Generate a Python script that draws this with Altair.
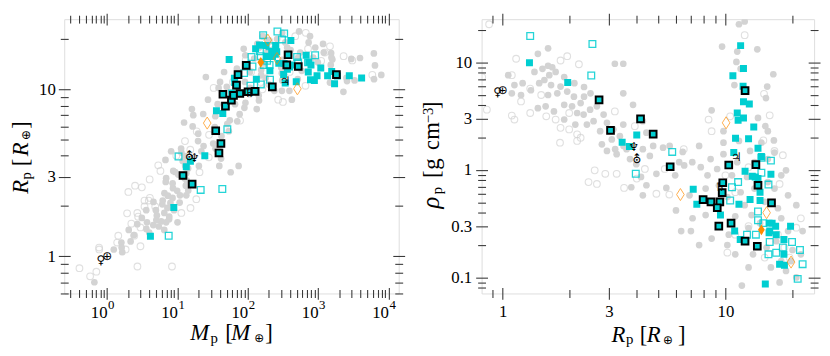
import altair as alt
import pandas as pd

# ---------------- data: planet radius R [R_earth] and bulk density rho [g cm^-3] ----------------
gray_filled_R = [1.60, 1.44, 1.39, 1.51, 1.60, 1.67, 1.73, 1.62, 1.54, 1.46,
                 1.34, 1.21, 1.13, 1.23, 1.65, 1.82, 1.76, 1.60, 1.95, 2.09,
                 2.24, 2.05, 1.89, 2.16, 2.31, 2.47, 2.65, 2.84, 2.56, 2.39,
                 2.94, 2.74, 3.14, 3.48, 3.36, 3.09, 2.79, 2.94, 3.25, 3.60,
                 3.85, 3.48, 3.19, 3.48, 4.26, 4.42, 4.26, 3.98, 4.18, 3.78,
                 4.26, 1.70, 1.56, 1.44, 1.89, 2.12, 5.25, 4.74, 6.43, 7.62,
                 6.53, 5.95, 7.75, 8.58, 8.31, 5.43, 6.00, 6.33, 7.12, 7.62,
                 8.67, 4.90, 4.42, 10.2, 11.07, 9.18,
                 9.66, 11.3, 13.9, 11.2, 11.7, 10.97, 16.4, 15.4, 15.2, 8.67,
                 9.8, 14.0, 15.1, 15.5, 16.5, 9.8, 11.5, 12.9, 9.8, 11.3,
                 12.5, 11.7, 14.3, 15.3, 18.7, 16.9, 20.0, 18.7, 19.1, 20.8,
                 22.2, 20.8, 17.5, 11.85, 12.7, 11.07, 10.2, 10.35, 12.2, 13.1,
                 12.7, 15.0, 16.6, 17.2, 17.8, 19.1, 17.8, 19.7, 21.8, 9.35,
                 10.7, 14.5, 16.6, 17.8, 15.5, 13.5, 12.2, 11.5, 7.0, 8.15,
                 9.18, 13.5, 15.5, 13.3, 16.0,
                 1.89, 2.10, 2.32, 2.48, 2.32, 3.20, 3.49, 3.73, 4.58, 5.62,
                 6.20, 7.10, 8.15, 6.90, 1.06, 1.10, 0.70]
gray_filled_rho = [13.5, 12.0, 8.15, 8.7, 9.3, 9.0, 8.15, 7.6, 6.85, 6.4,
                   5.5, 4.97, 6.15, 6.4, 6.15, 5.95, 5.15, 4.97, 5.35, 4.8,
                   4.18, 3.9, 4.03, 3.38, 3.27, 3.63, 3.9, 3.27, 2.84, 2.64,
                   2.74, 2.29, 2.38, 2.64, 2.06, 1.92, 1.73, 1.50, 1.40, 1.56,
                   4.03, 5.15, 9.7, 9.7, 2.84, 2.22, 1.56, 1.13, 0.86, 0.69,
                   0.58, 3.5, 3.9, 3.75, 2.94, 2.64, 1.61, 1.67, 1.47, 1.67,
                   1.10, 0.89, 1.06, 1.26, 0.89, 0.68, 0.42, 0.27, 0.355, 0.20,
                   0.23, 0.92, 0.72, 0.56, 0.37, 1.02,
                   14.0, 12.6, 13.2, 10.1, 8.7, 6.15, 7.75, 5.95, 4.65, 3.58,
                   2.29, 3.04, 2.55, 2.29, 1.88, 1.79, 1.86, 1.50, 1.40, 1.18,
                   0.86, 0.62, 0.32, 0.19, 0.115, 0.217, 0.18, 0.99, 0.58, 0.47,
                   0.27, 0.10, 0.090, 0.084, 0.124, 0.164, 0.20, 0.25, 0.47, 0.38,
                   0.288, 0.505, 0.67, 0.44, 0.355, 0.27, 0.142, 0.142, 0.164, 0.72,
                   0.89, 1.79, 1.45, 0.89, 1.26, 1.18, 24.0, 22.6, 0.27, 0.38,
                   0.44, 0.67, 0.77, 0.164, 0.124,
                   7.3, 6.4, 4.8, 5.15, 5.9, 1.56, 1.67, 1.26, 1.35, 1.67,
                   1.18, 1.18, 0.67, 0.58, 7.6, 5.15, 10.6]

gray_open_R = [1.15, 1.95, 2.20, 1.82, 1.21, 1.13, 1.82, 1.99, 2.16, 1.73,
               2.16, 1.81, 2.24, 2.59, 2.89, 3.25, 2.65, 2.43, 3.51, 3.92,
               3.19, 0.85, 0.87, 0.81, 4.35, 4.90, 5.60, 12.2, 14.9, 15.8,
               8.4, 8.67, 14.8, 16.6, 18.1, 10.0, 12.7, 10.2, 15.0, 20.8,
               19.4, 11.07, 17.5, 12.7, 10.5, 1.33, 1.57, 1.99, 6.5, 5.34,
               4.0, 1.49, 1.33, 1.10, 17.2, 18.4, 11.07, 21.8,
               0.76, 0.87, 1.10]
gray_open_rho = [10.8, 11.4, 9.6, 10.4, 4.33, 2.94, 2.46, 2.38, 2.14, 2.94,
                 1.86, 1.79, 1.99, 0.99, 0.92, 0.92, 0.74, 0.77, 0.68, 2.55,
                 3.5, 3.63, 22.6, 7.3, 1.02, 0.60, 0.59, 17.9, 5.1, 3.22,
                 2.94, 2.29, 1.88, 1.50, 1.37, 0.89, 0.30, 0.17, 0.153, 0.29,
                 0.153, 0.25, 0.74, 1.06, 3.15, 3.38, 3.15, 3.38, 1.56, 1.02,
                 0.83, 4.97, 5.7, 7.6, 0.25, 0.19, 0.62, 0.355,
                 7.2, 70.0, 3.2]

cyan_filled_R = [1.32, 1.96, 3.44, 3.71, 4.00, 7.17, 7.44,
                 11.7, 12.05, 10.8, 12.0, 12.05, 12.8, 11.3, 11.4, 12.05,
                 13.4, 11.1, 12.7, 14.0, 10.9, 14.5, 12.25, 13.2, 14.0, 16.0,
                 12.9, 11.5, 14.3, 9.5, 11.0, 11.65, 15.7, 16.8, 16.9, 19.6,
                 18.3, 17.5, 18.4, 18.3, 15.1, 15.8, 13.6, 14.3, 15.7, 16.2]
cyan_filled_rho = [9.9, 6.5, 1.81, 1.65, 2.11, 0.66, 0.48,
                   14.3, 8.75, 7.5, 6.0, 4.3, 4.1, 3.38, 2.9, 3.04,
                   2.5, 1.97, 1.95, 1.59, 1.45, 1.33, 0.97, 0.875, 0.83, 0.91,
                   0.53, 0.48, 0.52, 0.38, 0.27, 0.225, 0.32, 0.30, 0.25, 0.30,
                   0.225, 0.133, 0.13, 0.164, 0.087, 0.27, 0.86, 0.62, 0.26, 0.32]

cyan_open_R = [1.33, 2.53, 2.50, 5.77, 3.96, 16.0, 10.7, 11.4, 10.5, 15.6,
               14.5, 14.0, 14.0, 12.5, 13.7, 15.8, 15.6, 16.9, 19.9, 21.6,
               22.2, 21.1, 18.1, 14.8, 14.5]
cyan_open_rho = [17.6, 14.8, 7.55, 1.47, 0.92, 1.22, 0.69, 0.77, 0.52, 0.73,
                 0.94, 0.41, 0.34, 0.25, 0.25, 0.214, 0.164, 0.17, 0.214, 0.18,
                 0.133, 0.097, 0.19, 0.32, 1.30]

outlined_R = [2.71, 3.05, 4.16, 4.74, 5.65, 7.94, 8.61, 9.44, 9.19, 9.67,
              9.73, 9.34, 10.6, 10.35, 12.25, 12.25, 13.9, 13.7, 14.0, 16.1]
outlined_rho = [4.48, 2.33, 2.98, 2.15, 1.07, 0.53, 0.505, 0.505, 0.445, 0.615,
                0.76, 0.30, 0.32, 1.11, 5.46, 0.218, 0.195, 1.12, 0.72, 0.494]

orange_open_R = [10.07, 6.28, 15.3, 19.7]
orange_open_rho = [2.74, 0.59, 0.40, 0.139]
orange_filled_R = [14.5]
orange_filled_rho = [0.277]

solar_symbol = ["\u2640", "\u2295", "\u26e2", "\u2646", "\u2643", "\u2644"]
solar_R = [0.95, 1.00, 4.00, 3.88, 11.2, 9.45]
solar_rho = [5.24, 5.51, 1.27, 1.64, 1.33, 0.69]

# ---------------- tick values and tick labels ----------------
mass_major = [1, 10, 100, 1000, 10000]
mass_exponent_labels = ["0", "1", "2", "3", "4"]
mass_minor = [0.3, 0.4, 0.5, 0.6, 0.7, 0.8, 0.9, 2, 3, 4, 5, 6, 7, 8, 9,
              20, 30, 40, 50, 60, 70, 80, 90, 200, 300, 400, 500, 600, 700, 800, 900,
              2000, 3000, 4000, 5000, 6000, 7000, 8000, 9000]
radL_major = [1, 3, 10]
radL_minor = [0.6, 0.7, 0.8, 0.9, 2, 4, 5, 6, 7, 8, 9, 20]
radR_major = [1, 3, 10]
radR_minor = [0.9, 2, 4, 5, 6, 7, 8, 9, 20]
rho_major = [0.1, 0.3, 1, 3, 10]
rho_minor = [0.08, 0.09, 0.2, 0.4, 0.5, 0.6, 0.7, 0.8, 0.9, 2, 4, 5, 6, 7, 8, 9, 20]

M_DOM = [0.246, 14000]
RL_DOM = [0.60, 26.3]
RR_DOM = [0.805, 25.0]
RHO_DOM = [0.071, 25.2]

SERIF = "Liberation Serif, DejaVu Serif, serif"
SYMF = "DejaVu Sans, sans-serif"
AXC = "#3a3a3a"
CYAN = "#00CED1"
ORANGE = "#FF8C00"
GRAY = "#D3D3D3"
DIAMOND = "M0,-1L0.63,0L0,1L-0.63,0Z"

one = pd.DataFrame({"k": [0]})


def df(R, rho, sym=None):
    d = pd.DataFrame({"R": R, "rho": rho})
    if sym is not None:
        d["sym"] = sym
    return d


def axis(orient, values, major, labels=False, pad=0):
    kw = dict(orient=orient, values=values, offset=-6 if major else -4,
              tickSize=12 if major else 8, domain=False, grid=False, title=None,
              tickColor=AXC, tickWidth=1.1, labels=labels, zindex=1)
    if labels:
        kw.update(labelFont=SERIF, labelFontSize=17, labelColor="black", format="~g",
                  labelPadding=pad, labelOverlap=False, labelFlush=False, labelBound=False)
        if orient == "bottom":
            kw["labelBaseline"] = "alphabetic"
    return alt.Axis(**kw)


def txt(s, x, y, size=23, style="normal", angle=0, font=SERIF):
    return alt.Chart(one).mark_text(
        text=s, font=font, fontSize=size, fontStyle=style, align="left",
        baseline="alphabetic", angle=angle, color="black"
    ).encode(x=alt.value(x), y=alt.value(y))


def panel(left, W, H, titles):
    if left:
        xf, xdom, yf, ydom = "M", M_DOM, "R", RL_DOM
        xmaj, xmin, ymaj, ymin = mass_major, mass_minor, radL_major, radL_minor
        xlab, ypad = False, 3
    else:
        xf, xdom, yf, ydom = "R", RR_DOM, "rho", RHO_DOM
        xmaj, xmin, ymaj, ymin = radR_major, radR_minor, rho_major, rho_minor
        xlab, ypad = True, 4

    xscale = alt.Scale(type="log", domain=xdom, nice=False)
    yscale = alt.Scale(type="log", domain=ydom, nice=False)

    def enc(ch, xa, ya, extra=None):
        e = dict(x=alt.X(f"{xf}:Q", scale=xscale, axis=xa),
                 y=alt.Y(f"{yf}:Q", scale=yscale, axis=ya))
        if extra:
            e.update(extra)
        return ch.transform_calculate(M="datum.rho * pow(datum.R, 3) / 5.51").encode(**e)

    layers = [
        enc(alt.Chart(df(gray_open_R, gray_open_rho)).mark_point(
            shape="circle", filled=False, size=46, stroke=GRAY, strokeWidth=1.1, clip=True),
            axis("bottom", xmin, False), axis("left", ymin, False)),
        enc(alt.Chart(df(gray_filled_R, gray_filled_rho)).mark_point(
            shape="circle", filled=True, size=46, fill=GRAY, opacity=1, clip=True),
            axis("bottom", xmaj, True, xlab, 17.7), axis("left", ymaj, True, True, ypad)),
        enc(alt.Chart(df(cyan_open_R, cyan_open_rho)).mark_point(
            shape="square", filled=False, size=46, stroke=CYAN, strokeWidth=1.3, opacity=0.85, clip=True),
            axis("top", xmin, False), axis("right", ymin, False)),
        enc(alt.Chart(df(cyan_filled_R, cyan_filled_rho)).mark_point(
            shape="square", filled=True, size=50, fill=CYAN, opacity=1, clip=True),
            axis("top", xmaj, True), axis("right", ymaj, True)),
        enc(alt.Chart(df(outlined_R, outlined_rho)).mark_point(
            shape="square", filled=True, size=46, fill=CYAN, stroke="black", strokeWidth=2,
            opacity=1, clip=True), None, None),
        enc(alt.Chart(df(orange_open_R, orange_open_rho)).mark_point(
            shape=DIAMOND, filled=False, size=150, stroke=ORANGE, strokeWidth=1, clip=True),
            None, None),
        enc(alt.Chart(df(orange_filled_R, orange_filled_rho)).mark_point(
            shape=DIAMOND, filled=True, size=120, fill=ORANGE, opacity=1, clip=True),
            None, None),
        enc(alt.Chart(df(solar_R, solar_rho, solar_symbol)).mark_text(
            font=SYMF, fontSize=12, color="black", clip=True),
            None, None, {"text": alt.Text("sym:N")}),
    ]
    if left:
        # power-of-ten tick labels: "10" plus a raised exponent, placed by the x scale
        lab = pd.DataFrame({"M": mass_major, "e": mass_exponent_labels})
        layers += [
            alt.Chart(lab).mark_text(text="10", font=SERIF, fontSize=17, align="right",
                                     baseline="alphabetic", dx=0.5, color="black").encode(
                x=alt.X("M:Q", scale=xscale, axis=None), y=alt.value(H + 24.4)),
            alt.Chart(lab).mark_text(font=SERIF, fontSize=13, align="left",
                                     baseline="alphabetic", dx=1, color="black").encode(
                x=alt.X("M:Q", scale=xscale, axis=None), y=alt.value(H + 15.8),
                text=alt.Text("e:N")),
        ]
    layers += titles
    return alt.layer(*layers).resolve_axis(x="independent", y="independent").properties(
        width=W, height=H)


# axis-title pieces (relative to each plot area)
left_titles = [
    txt("M", 127.7, 325, style="italic"),
    txt("p", 148.2, 328, size=15),
    txt("[", 163.2, 325),
    txt("M", 169.2, 325, style="italic"),
    txt("\u2295", 192.7, 327, size=12, font=SYMF),
    txt("]", 203.7, 325),
    txt("R", -36.3, 177, style="italic", angle=270),
    txt("p", -33.8, 162.5, size=15, angle=270),
    txt("[", -36.3, 149, angle=270),
    txt("R", -36.3, 139, style="italic", angle=270),
    txt("\u2295", -34.3, 122.5, size=12, angle=270, font=SYMF),
    txt("]", -36.3, 111, angle=270),
]
right_titles = [
    txt("R", 131.6, 326.7, style="italic"),
    txt("p", 146.3, 329.7, size=15),
    txt("[", 160.3, 326.7),
    txt("R", 167.3, 326.7, style="italic"),
    txt("\u2295", 183.8, 329, size=12, font=SYMF),
    txt("]", 199, 326.7),
    txt("\u03c1", -42.7, 192, size=25, style="italic", angle=270),
    txt("p", -39.7, 177.5, size=15, angle=270),
    txt("[", -42.7, 161, angle=270),
    txt("g", -42.7, 152.5, angle=270),
    txt("cm", -42.7, 132.5, angle=270),
    txt("\u22123", -49.7, 105.5, size=15, angle=270),
    txt("]", -42.7, 91, angle=270),
]

left = panel(True, 339, 278, left_titles)
right = panel(False, 337, 278, right_titles)

chart = alt.hconcat(left, right, spacing=12).properties(
    padding={"left": 2, "top": 1, "right": 0, "bottom": 0}
).configure_view(stroke=AXC, strokeWidth=1.2).configure(background="white")

chart.save("out.html", embed_options={"renderer": "svg", "actions": False})
